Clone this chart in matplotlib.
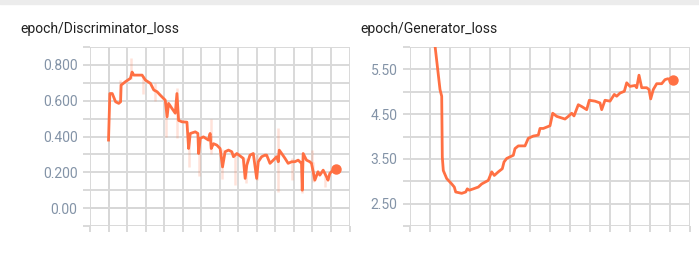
import numpy as np
import matplotlib
matplotlib.use('Agg')
import matplotlib.pyplot as plt

plt.rcParams['font.family'] = ['Roboto', 'DejaVu Sans']

# ---- data (x in step units) ----
disc_x = [0.0, 0.07, 0.2, 0.38, 0.55, 0.65, 0.68, 0.91, 1.18, 1.27, 1.36, 1.81, 1.99,
          2.26, 2.44, 2.62, 2.8, 3.06, 3.16, 3.24, 3.42, 3.6, 3.69, 3.78, 3.96, 4.23,
          4.32, 4.41, 4.68, 4.82, 4.86, 4.95, 5.12, 5.39, 5.48, 5.54, 5.66, 5.84, 6.02,
          6.15, 6.29, 6.47, 6.65, 6.74, 6.92, 7.27, 7.37, 7.46, 7.63, 7.81, 7.99, 8.08,
          8.26, 8.44, 8.53, 8.71, 8.89, 9.07, 9.16, 9.21, 9.34, 9.52, 9.69, 9.88, 10.05,
          10.23, 10.41, 10.45, 10.5, 10.68, 10.86, 10.95, 11.13, 11.3, 11.4, 11.58,
          11.76, 11.84, 11.94, 12.11, 12.26]
disc_loss = [0.38, 0.64, 0.64, 0.594, 0.585, 0.594, 0.687, 0.706, 0.725, 0.76, 0.743,
             0.743, 0.715, 0.697, 0.66, 0.65, 0.63, 0.603, 0.51, 0.585, 0.557, 0.53,
             0.64, 0.49, 0.482, 0.48, 0.333, 0.417, 0.426, 0.417, 0.305, 0.39, 0.398,
             0.38, 0.417, 0.333, 0.36, 0.352, 0.333, 0.23, 0.315, 0.324, 0.315, 0.287,
             0.305, 0.278, 0.166, 0.24, 0.296, 0.305, 0.166, 0.259, 0.287, 0.296, 0.296,
             0.25, 0.268, 0.287, 0.259, 0.324, 0.305, 0.278, 0.25, 0.259, 0.259, 0.268,
             0.25, 0.10, 0.305, 0.268, 0.259, 0.25, 0.156, 0.203, 0.184, 0.212, 0.175,
             0.156, 0.194, 0.212, 0.216]

# faint raw-value excursions (x, low, high)
raw_x = [0.64, 1.23, 1.84, 2.52, 3.09, 3.69, 3.69, 4.32, 4.9, 5.51, 5.51, 6.1,
         6.83, 7.42, 7.99, 9.16, 9.16, 9.88, 10.45, 10.99, 11.04, 11.67]
raw_lo = [0.59, 0.72, 0.64, 0.60, 0.40, 0.53, 0.39, 0.23, 0.18, 0.38, 0.30, 0.16,
          0.13, 0.14, 0.156, 0.26, 0.09, 0.156, 0.085, 0.25, 0.147, 0.12]
raw_hi = [0.715, 0.836, 0.74, 0.70, 0.60, 0.67, 0.53, 0.42, 0.40, 0.50, 0.41, 0.33,
          0.31, 0.28, 0.30, 0.445, 0.26, 0.28, 0.27, 0.324, 0.26, 0.20]

gen_x = [0.0, 0.25, 0.5, 0.585, 0.615, 0.665, 0.835, 1.085, 1.215, 1.285, 1.585, 1.785,
         1.865, 1.965, 2.165, 2.415, 2.585, 2.915, 3.085, 3.215, 3.415, 3.615, 3.7,
         3.835, 4.165, 4.25, 4.415, 4.75, 4.915, 5.165, 5.415, 5.5, 5.665, 6.0, 6.135,
         6.335, 6.75, 6.915, 7.085, 7.2, 7.415, 7.585, 7.835, 7.965, 8.25, 8.5, 8.585,
         8.75, 9.0, 9.215, 9.335, 9.5, 9.715, 9.835, 10.0, 10.25, 10.335, 10.45, 10.585,
         10.835, 10.95, 11.035, 11.165, 11.335, 11.585, 11.75, 11.885, 12.165]
gen_loss = [6.95, 6.03, 5.05, 4.9, 3.54, 3.24, 3.06, 2.94, 2.87, 2.76, 2.73, 2.76, 2.83,
            2.8, 2.83, 2.87, 2.94, 3.02, 3.21, 3.13, 3.21, 3.28, 3.43, 3.51, 3.58, 3.73,
            3.79, 3.79, 3.96, 4.01, 4.03, 4.18, 4.18, 4.24, 4.52, 4.45, 4.39, 4.45, 4.52,
            4.46, 4.71, 4.67, 4.6, 4.81, 4.79, 4.75, 4.6, 4.81, 4.79, 4.94, 4.9, 4.97,
            5.01, 5.2, 5.12, 5.14, 5.09, 5.37, 5.09, 5.09, 5.05, 4.84, 5.05, 5.18, 5.18,
            5.27, 5.29, 5.26]

titles = ['epoch/Discriminator_loss', 'epoch/Generator_loss']
disc_ticks = [-0.1, 0.0, 0.1, 0.2, 0.3, 0.4, 0.5, 0.6, 0.7, 0.8, 0.9]
disc_labels = ['', '0.00', '', '0.200', '', '0.400', '', '0.600', '', '0.800', '']
gen_ticks = [2.0, 2.5, 3.0, 3.5, 4.0, 4.5, 5.0, 5.5, 6.0]
gen_labels = ['', '2.50', '', '3.50', '', '4.50', '', '5.50', '']

line_c = '#ff7043'
grid_c = '#d9d9d9'
zero_c = '#9e9e9e'
label_c = '#8393a7'

W, H = 699, 254
fig = plt.figure(figsize=(W / 100, H / 100), dpi=100)

# card shadow at the very top
fig.patches.append(plt.Rectangle((0, 1 - 4 / H), 1, 4 / H, transform=fig.transFigure,
                                 color='#ececec', zorder=0))

ax1 = fig.add_axes([90 / W, (H - 226) / H, 259.5 / W, 179 / H])
ax2 = fig.add_axes([410 / W, (H - 226) / H, 280 / W, 179 / H])


def style(ax, yticks, ylabels, ylim):
    ax.set_xlim(-1, 13)
    ax.set_ylim(*ylim)
    ax.set_xticks(np.arange(-1, 14))
    ax.set_xticklabels([])
    ax.set_yticks(yticks)
    ax.set_yticklabels(ylabels)
    for s in ax.spines.values():
        s.set_visible(False)
    ax.grid(True, color=grid_c, lw=1.4, zorder=0)
    ax.tick_params(axis='x', length=4, color=grid_c, width=1.4, direction='out')
    ax.tick_params(axis='y', length=5, color=grid_c, width=1.4, pad=4,
                   labelsize=10, labelcolor=label_c)
    ax.axvline(0, color=zero_c, lw=1.4, zorder=1)


style(ax1, disc_ticks, disc_labels, (-0.1, 0.9))
ax1.axhline(0, color=zero_c, lw=1.4, zorder=1)
ax1.vlines(raw_x, raw_lo, raw_hi, color=line_c, alpha=0.2, lw=1.8, zorder=2)
ax1.plot(disc_x, disc_loss, color=line_c, lw=2.0, zorder=3)
ax1.plot(disc_x[-1], disc_loss[-1], 'o', color=line_c, ms=6.5, zorder=4)

style(ax2, gen_ticks, gen_labels, (2.0, 6.0))
ax2.plot(gen_x, gen_loss, color=line_c, lw=2.0, zorder=3)
ax2.plot(gen_x[-1], gen_loss[-1], 'o', color=line_c, ms=6.5, zorder=4)

fig.text(20 / W, 1 - 29 / H, titles[0], fontsize=10, color='#212121', va='center')
fig.text(360 / W, 1 - 29 / H, titles[1], fontsize=10, color='#212121', va='center')

fig.savefig('out.png', dpi=100)
